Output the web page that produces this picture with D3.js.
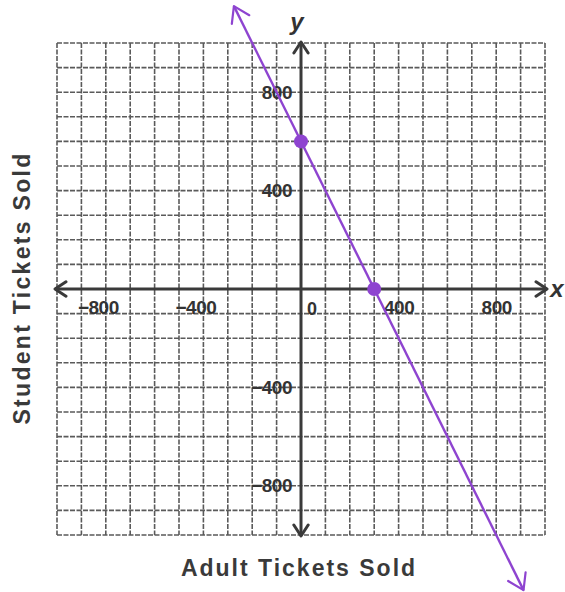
<!DOCTYPE html>
<html><head><meta charset="utf-8">
<script src="https://cdn.jsdelivr.net/npm/d3@7"></script>
<style>
html,body{margin:0;padding:0;background:#fff;}
svg{display:block;}
</style></head>
<body>
<svg id="chart" width="565" height="592"></svg>
<script>
// ---- data ----
const xDomain = [-1000, 1000];
const yDomain = [-1000, 1000];
const gridValues = d3.range(-1000, 1001, 100);
const xTickValues = [-800, -400, 400, 800];
const yTickValues = [800, 400, -400, -800];
const pointsX = [0, 300];
const pointsY = [600, 0];
const lineX = [-275, 912];
const lineY = [1150, -1224];
const xTitle = "Adult Tickets Sold";
const yTitle = "Student Tickets Sold";

const svg = d3.select("#chart");
const x = d3.scaleLinear().domain(xDomain).range([57, 545]);
const y = d3.scaleLinear().domain(yDomain).range([535, 43]);
const purple = "#8e44d0";
const axisCol = "#3a3a3a";
const font = "Liberation Sans, Arial, sans-serif";

const defs = svg.append("defs");
function chevron(id, color, w, s) {
  defs.append("marker").attr("id", id).attr("viewBox", `${-s-2} ${-s} ${s+4} ${2*s}`)
    .attr("refX", 0).attr("refY", 0).attr("markerWidth", s + 4).attr("markerHeight", 2 * s)
    .attr("markerUnits", "userSpaceOnUse").attr("orient", "auto-start-reverse")
    .append("path").attr("d", `M${-s},${-s*0.65} L0,0 L${-s},${s*0.65}`)
    .attr("fill", "none").attr("stroke", color).attr("stroke-width", w)
    .attr("stroke-linecap", "round").attr("stroke-linejoin", "round");
}
chevron("arrAxis", axisCol, 3, 11);
chevron("arrLine", purple, 2.2, 15);

// grid
const grid = svg.append("g");
grid.selectAll("line.v").data(gridValues).join("line")
  .attr("x1", d => x(d)).attr("x2", d => x(d))
  .attr("y1", y(yDomain[1])).attr("y2", y(yDomain[0]))
  .attr("stroke", "#5a5a5a").attr("stroke-width", 1.6)
  .attr("stroke-dasharray", "5,1.5");
grid.selectAll("line.h").data(gridValues).join("line")
  .attr("y1", d => y(d)).attr("y2", d => y(d))
  .attr("x1", x(xDomain[0])).attr("x2", x(xDomain[1]))
  .attr("stroke", "#5a5a5a").attr("stroke-width", 1.6)
  .attr("stroke-dasharray", "5,1.5");

// main axes lines with arrows
svg.append("line").attr("x1", x(xDomain[0]) - 2).attr("x2", x(xDomain[1]) + 2)
  .attr("y1", y(0)).attr("y2", y(0)).attr("stroke", axisCol).attr("stroke-width", 3)
  .attr("marker-start", "url(#arrAxis)").attr("marker-end", "url(#arrAxis)");
svg.append("line").attr("y1", y(yDomain[1]) - 1).attr("y2", y(yDomain[0]) + 1)
  .attr("x1", x(0)).attr("x2", x(0)).attr("stroke", axisCol).attr("stroke-width", 3)
  .attr("marker-start", "url(#arrAxis)").attr("marker-end", "url(#arrAxis)");

// tick labels via d3 axes
const fmt = d => d < 0 ? "\u2212" + Math.abs(d) : String(d);
const gx = svg.append("g").attr("transform", `translate(0,${y(0)})`)
  .call(d3.axisBottom(x).tickValues(xTickValues).tickSize(0).tickPadding(12).tickFormat(fmt));
const gy = svg.append("g").attr("transform", `translate(${x(0)},0)`)
  .call(d3.axisLeft(y).tickValues(yTickValues).tickSize(0).tickPadding(9).tickFormat(fmt));
[gx, gy].forEach(g => {
  g.select(".domain").remove();
  g.attr("font-size", 19).attr("font-family", font);
  g.selectAll("text").attr("fill", "#333").attr("font-family", font)
    .attr("font-size", 19).attr("font-weight", "bold").attr("letter-spacing", -0.5);
});
gx.selectAll(".tick").filter(d => d < 0).select("text").attr("dx", -8);
svg.append("text").attr("x", x(0) + 11).attr("y", y(0) + 26).attr("text-anchor", "middle")
  .attr("fill", "#333").attr("font-family", font)
  .attr("font-size", 18).attr("font-weight", "bold").text("0");

// axis letters
svg.append("text").attr("x", 557).attr("y", y(0) + 8).attr("text-anchor", "middle")
  .attr("font-family", font).attr("font-style", "italic")
  .attr("font-weight", "bold").attr("font-size", 24).attr("fill", "#333").text("x");
svg.append("text").attr("x", x(0) - 4).attr("y", 30).attr("text-anchor", "middle")
  .attr("font-family", font).attr("font-style", "italic")
  .attr("font-weight", "bold").attr("font-size", 24).attr("fill", "#333").text("y");

// titles
svg.append("text").attr("x", 299).attr("y", 576).attr("text-anchor", "middle")
  .attr("font-family", font).attr("font-weight", "bold")
  .attr("font-size", 23).attr("letter-spacing", 2).attr("fill", "#3a3a3a").text(xTitle);
svg.append("text").attr("transform", "translate(30,288) rotate(-90)").attr("text-anchor", "middle")
  .attr("font-family", font).attr("font-weight", "bold")
  .attr("font-size", 23).attr("letter-spacing", 2.3).attr("fill", "#3a3a3a").text(yTitle);

// purple line
const lineData = lineX.map((v, i) => [v, lineY[i]]);
svg.append("path").datum(lineData)
  .attr("d", d3.line().x(d => x(d[0])).y(d => y(d[1])))
  .attr("fill", "none").attr("stroke", purple).attr("stroke-width", 2.4)
  .attr("marker-start", "url(#arrLine)").attr("marker-end", "url(#arrLine)");

// points
svg.selectAll("circle.pt").data(pointsX.map((v, i) => [v, pointsY[i]])).join("circle")
  .attr("cx", d => x(d[0])).attr("cy", d => y(d[1])).attr("r", 7).attr("fill", purple);
</script>
</body></html>
